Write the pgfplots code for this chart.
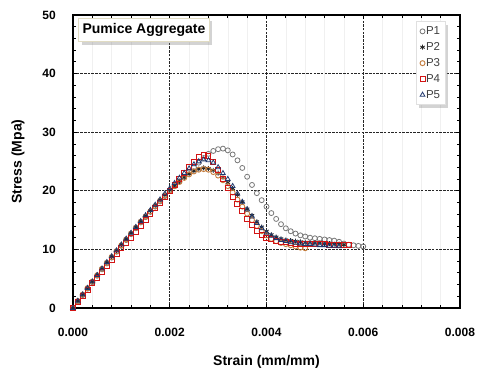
\documentclass[border=0pt]{standalone}
\usepackage{pgfplots}
\pgfplotsset{compat=1.18}
\usepackage{pgfplotstable}
\usepackage{fontspec}
\setmainfont{Liberation Sans}
\usetikzlibrary{shadows}

\definecolor{cP1}{RGB}{120,120,120}
\definecolor{cP2}{RGB}{40,40,40}
\definecolor{cP3}{RGB}{196,124,60}
\definecolor{cP4}{RGB}{210,20,20}
\definecolor{cP5}{RGB}{32,56,110}
\definecolor{boxedge}{RGB}{225,220,195}

\pgfplotstableread{
x y
0 0
0.0001 1.1
0.0002 2.2
0.0003 3.3
0.0004 4.4
0.0005 5.5
0.0006 6.6
0.0007 7.6
0.0008 8.6
0.0009 9.6
0.0010 10.6
0.0011 11.6
0.0012 12.6
0.0013 13.6
0.0014 14.6
0.0015 15.5
0.0016 16.4
0.0017 17.3
0.0018 18.2
0.0019 19.1
0.0020 20.0
0.0021 20.8
0.0022 21.6
0.0023 22.4
0.0024 23.2
0.0025 24.0
0.0026 24.8
0.0027 25.6
0.0028 26.3
0.0029 26.8
0.0030 27.1
0.0031 27.2
0.0032 26.9
0.0033 26.2
0.0034 25.2
0.0035 23.9
0.0036 22.4
0.0037 21.0
0.0038 19.6
0.0039 18.4
0.0040 17.3
0.0041 16.2
0.0042 15.2
0.0043 14.3
0.0044 13.6
0.0045 13.1
0.0046 12.7
0.0047 12.4
0.0048 12.2
0.0049 12.0
0.0050 11.9
0.0051 11.8
0.0052 11.7
0.0053 11.6
0.0054 11.5
0.0055 11.3
0.0056 11.0
0.0057 10.8
0.0058 10.7
0.0059 10.6
0.0060 10.5
}\tPone

\pgfplotstableread{
x y
0 0
0.0001 1.2
0.0002 2.3
0.0003 3.4
0.0004 4.5
0.0005 5.6
0.0006 6.7
0.0007 7.8
0.0008 8.8
0.0009 9.8
0.0010 10.8
0.0011 11.8
0.0012 12.8
0.0013 13.8
0.0014 14.8
0.0015 15.7
0.0016 16.6
0.0017 17.5
0.0018 18.4
0.0019 19.3
0.0020 20.1
0.0021 20.9
0.0022 21.6
0.0023 22.3
0.0024 22.9
0.0025 23.4
0.0026 23.7
0.0027 23.9
0.0028 23.8
0.0029 23.5
0.0030 23.0
0.0031 22.3
0.0032 21.4
0.0033 20.4
0.0034 19.3
0.0035 18.1
0.0036 16.9
0.0037 15.8
0.0038 14.7
0.0039 13.8
0.0040 13.1
0.0041 12.5
0.0042 12.1
0.0043 11.8
0.0044 11.6
0.0045 11.5
0.0046 11.4
0.0047 11.3
0.0048 11.2
0.0049 11.2
0.0050 11.1
0.0051 11.1
0.0052 11.0
0.0053 11.0
0.0054 10.9
0.0055 10.9
0.0056 10.8
}\tPtwo

\pgfplotstableread{
x y
0 0
0.0001 1.2
0.0002 2.3
0.0003 3.4
0.0004 4.5
0.0005 5.6
0.0006 6.7
0.0007 7.7
0.0008 8.7
0.0009 9.7
0.0010 10.7
0.0011 11.7
0.0012 12.7
0.0013 13.7
0.0014 14.7
0.0015 15.6
0.0016 16.5
0.0017 17.4
0.0018 18.3
0.0019 19.2
0.0020 20.0
0.0021 20.8
0.0022 21.5
0.0023 22.2
0.0024 22.8
0.0025 23.3
0.0026 23.6
0.0027 23.7
0.0028 23.6
0.0029 23.2
0.0030 22.6
0.0031 21.8
0.0032 20.8
0.0033 19.7
0.0034 18.5
0.0035 17.3
0.0036 16.1
0.0037 15.0
0.0038 14.0
0.0039 13.1
0.0040 12.4
0.0041 11.8
0.0042 11.4
0.0043 11.1
0.0044 10.9
0.0045 10.7
0.0046 10.5
0.0047 10.3
0.0048 10.2
}\tPthree

\pgfplotstableread{
x y
0 0
0.0001 1.0
0.0002 2.1
0.0003 3.1
0.0004 4.2
0.0005 5.2
0.0006 6.2
0.0007 7.2
0.0008 8.2
0.0009 9.2
0.0010 10.2
0.0011 11.1
0.0012 12.0
0.0013 13.0
0.0014 14.0
0.0015 15.0
0.0016 16.0
0.0017 17.0
0.0018 18.0
0.0019 19.0
0.0020 20.0
0.0021 21.0
0.0022 22.0
0.0023 23.0
0.0024 24.0
0.0025 25.0
0.0026 25.7
0.0027 26.1
0.0028 25.9
0.0029 25.0
0.0030 23.5
0.0031 22.0
0.0032 20.5
0.0033 19.0
0.0034 17.8
0.0035 16.5
0.0036 15.2
0.0037 14.2
0.0038 13.2
0.0039 12.5
0.0040 12.0
0.0041 11.7
0.0042 11.5
0.0043 11.3
0.0044 11.2
0.0045 11.1
0.0046 11.0
0.0047 11.0
0.0048 10.9
0.0049 10.9
0.0050 10.9
0.0051 10.9
0.0052 10.9
0.0053 10.8
0.0054 10.8
0.0055 10.8
0.0056 10.8
0.0057 10.8
}\tPfour

\pgfplotstableread{
x y
0 0
0.0001 1.2
0.0002 2.3
0.0003 3.4
0.0004 4.5
0.0005 5.6
0.0006 6.7
0.0007 7.8
0.0008 8.8
0.0009 9.8
0.0010 10.8
0.0011 11.8
0.0012 12.8
0.0013 13.8
0.0014 14.8
0.0015 15.8
0.0016 16.7
0.0017 17.6
0.0018 18.5
0.0019 19.5
0.0020 20.4
0.0021 21.3
0.0022 22.2
0.0023 23.0
0.0024 23.8
0.0025 24.5
0.0026 25.0
0.0027 25.3
0.0028 25.2
0.0029 24.8
0.0030 24.0
0.0031 23.0
0.0032 22.0
0.0033 20.8
0.0034 19.5
0.0035 18.1
0.0036 16.8
0.0037 15.6
0.0038 14.5
0.0039 13.6
0.0040 12.8
0.0041 12.3
0.0042 11.9
0.0043 11.6
0.0044 11.4
0.0045 11.2
0.0046 11.1
0.0047 11.0
0.0048 10.9
0.0049 10.9
0.0050 10.8
0.0051 10.7
0.0052 10.7
0.0053 10.6
0.0054 10.6
0.0055 10.5
}\tPfive

\begin{document}
\begin{tikzpicture}
\begin{axis}[
  scale only axis,
  width=387pt, height=293pt,
  xmin=0, xmax=0.008, ymin=0, ymax=50,
  scaled x ticks=false, scaled y ticks=false,
  xtick={0,0.002,0.004,0.006,0.008},
  xticklabels={0.000,0.002,0.004,0.006,0.008},
  ytick={0,10,20,30,40,50},
  yticklabels={0,10,20,30,40,50},
  minor x tick num=4, minor y tick num=4,
  tick align=inside,
  major tick length=4pt, minor tick length=3pt,
  tick style={black, line width=0.8pt},
  axis line style={black, line width=1.6pt},
  grid=major,
  major grid style={black!85, line width=0.8pt, dash pattern=on 2.5pt off 1.2pt},
  minor x grid style={black!6, line width=0.4pt},
  xminorgrids=true,
  x tick label style={font=\bfseries\fontsize{12}{12}\selectfont, anchor=north, inner sep=0pt, yshift=-20pt},
  y tick label style={font=\bfseries\fontsize{12}{12}\selectfont, anchor=east, inner sep=0pt, xshift=-17pt},
  xlabel={Strain (mm/mm)},
  ylabel={Stress (Mpa)},
  xlabel style={font=\bfseries\fontsize{14}{14}\selectfont, at={(axis description cs:0.5,-0.184)}, anchor=center},
  ylabel style={font=\bfseries\fontsize{14}{14}\selectfont, at={(axis description cs:-0.142,0.5)}, anchor=center},
  legend style={at={(rel axis cs:0.962,0.978)}, anchor=north east,
    draw=black!12, fill=white, drop shadow={shadow xshift=3pt, shadow yshift=-3pt, opacity=0.35},
    font=\fontsize{11.5}{11.5}\selectfont, text=black!75,
    row sep=4.4pt, inner xsep=4pt, inner ysep=4pt, nodes={inner sep=1pt}},
  legend cell align=left,
  clip=false,
]
\addplot[only marks, mark=o, mark size=2.5pt, color=cP1, mark options={line width=0.8pt}] table[x=x,y=y]{\tPone};
\addlegendentry{P1}
\addplot[only marks, mark=asterisk, mark size=2.5pt, color=cP2, mark options={line width=0.9pt}] table[x=x,y=y]{\tPtwo};
\addlegendentry{P2}
\addplot[only marks, mark=o, mark size=2.5pt, color=cP3, mark options={line width=0.9pt}] table[x=x,y=y]{\tPthree};
\addlegendentry{P3}
\addplot[only marks, mark=square, mark size=2.5pt, color=cP4, mark options={line width=1pt}] table[x=x,y=y]{\tPfour};
\addlegendentry{P4}
\addplot[only marks, mark=triangle, mark size=2.7pt, color=cP5, mark options={line width=0.8pt}] table[x=x,y=y]{\tPfive};
\addlegendentry{P5}
\node[draw=boxedge, line width=1pt, fill=white, anchor=north west,
  font=\bfseries\fontsize{14}{14}\selectfont, inner xsep=4pt, inner ysep=5pt,
  drop shadow={shadow xshift=3pt, shadow yshift=-3pt, opacity=0.35}]
  at (rel axis cs:0.013,0.99) {Pumice Aggregate};
\end{axis}
\pgfresetboundingbox
\path[use as bounding box] ([xshift=-73pt,yshift=-62pt]current axis.south west) rectangle ([xshift=17pt,yshift=15pt]current axis.north east);
\end{tikzpicture}
\end{document}
